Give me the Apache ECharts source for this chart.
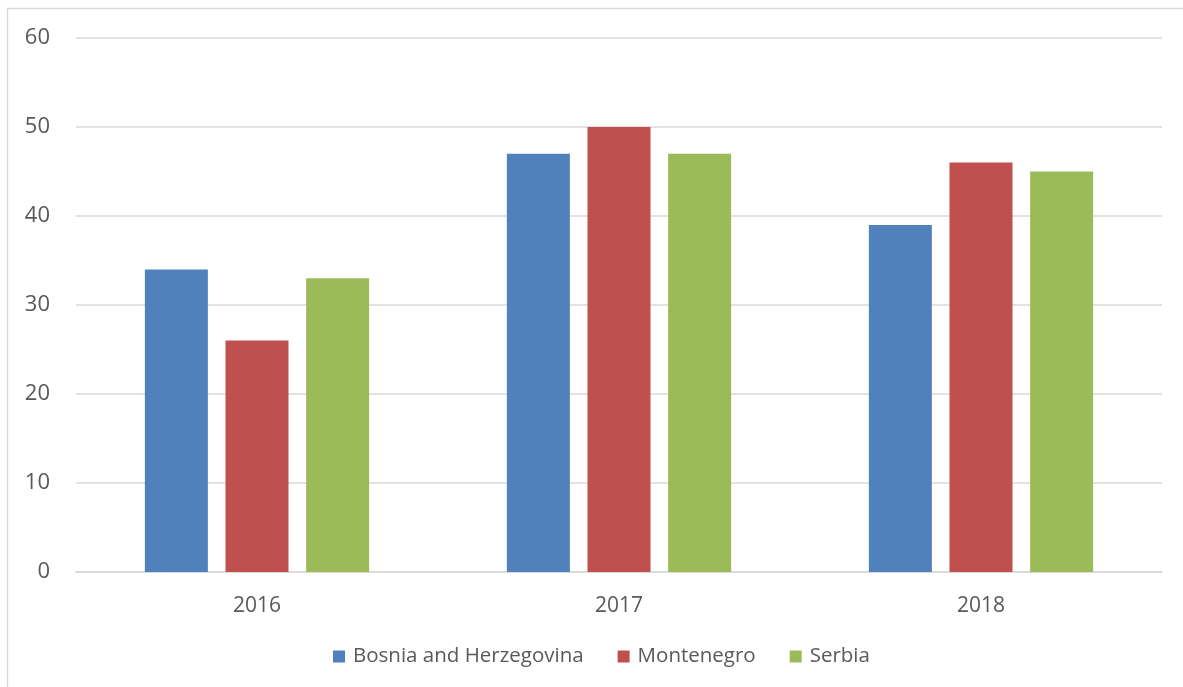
<!DOCTYPE html>
<html>
<head>
<meta charset="utf-8">
<style>
  html, body { margin: 0; padding: 0; background: #fff; }
  #chart { width: 1183px; height: 687px; }
</style>
<script src="https://cdn.jsdelivr.net/npm/echarts@6/dist/echarts.min.js"></script>
</head>
<body>
<div id="chart"></div>
<script>
// data
const years = ['2016', '2017', '2018']
const bosnia = [34, 47, 39]
const montenegro = [26, 50, 46]
const serbia = [33, 47, 45]

const chart = echarts.init(document.getElementById('chart'))
const font = '"Open Sans", "Liberation Sans", sans-serif'

chart.setOption({
  animation: false,
  color: ['#4f81bd', '#c0504d', '#9bbb59'],
  textStyle: { fontFamily: font },
  // outer chart frame
  graphic: [{
    type: 'rect',
    shape: { x: 7.5, y: 8.5, width: 1200, height: 700 },
    style: { fill: 'none', stroke: '#d9d9d9', lineWidth: 1.5 },
    silent: true
  }],
  grid: { left: 76, right: 21, top: 38, bottom: 115 },
  legend: {
    top: 646,
    left: 333,
    itemWidth: 12,
    itemHeight: 12,
    itemGap: 34,
    icon: 'rect',
    padding: 0,
    textStyle: { fontSize: 20.5, color: '#595959', fontFamily: font, padding: [0, 0, 0, 3] },
    data: ['Bosnia and Herzegovina', 'Montenegro', 'Serbia']
  },
  xAxis: {
    type: 'category',
    data: years,
    axisLine: { lineStyle: { color: '#d9d9d9', width: 1.5 } },
    axisTick: { show: false },
    axisLabel: { fontSize: 21, color: '#595959', margin: 24 }
  },
  yAxis: {
    type: 'value',
    min: 0,
    max: 60,
    interval: 10,
    axisLine: { show: false },
    axisTick: { show: false },
    axisLabel: { fontSize: 22, color: '#595959', margin: 26 },
    splitLine: { lineStyle: { color: '#d9d9d9', width: 1.5 } }
  },
  series: [
    { name: 'Bosnia and Herzegovina', type: 'bar', barWidth: 63, barGap: '28%', data: bosnia },
    { name: 'Montenegro', type: 'bar', barWidth: 63, barGap: '28%', data: montenegro },
    { name: 'Serbia', type: 'bar', barWidth: 63, barGap: '28%', data: serbia }
  ]
})
</script>
</body>
</html>
